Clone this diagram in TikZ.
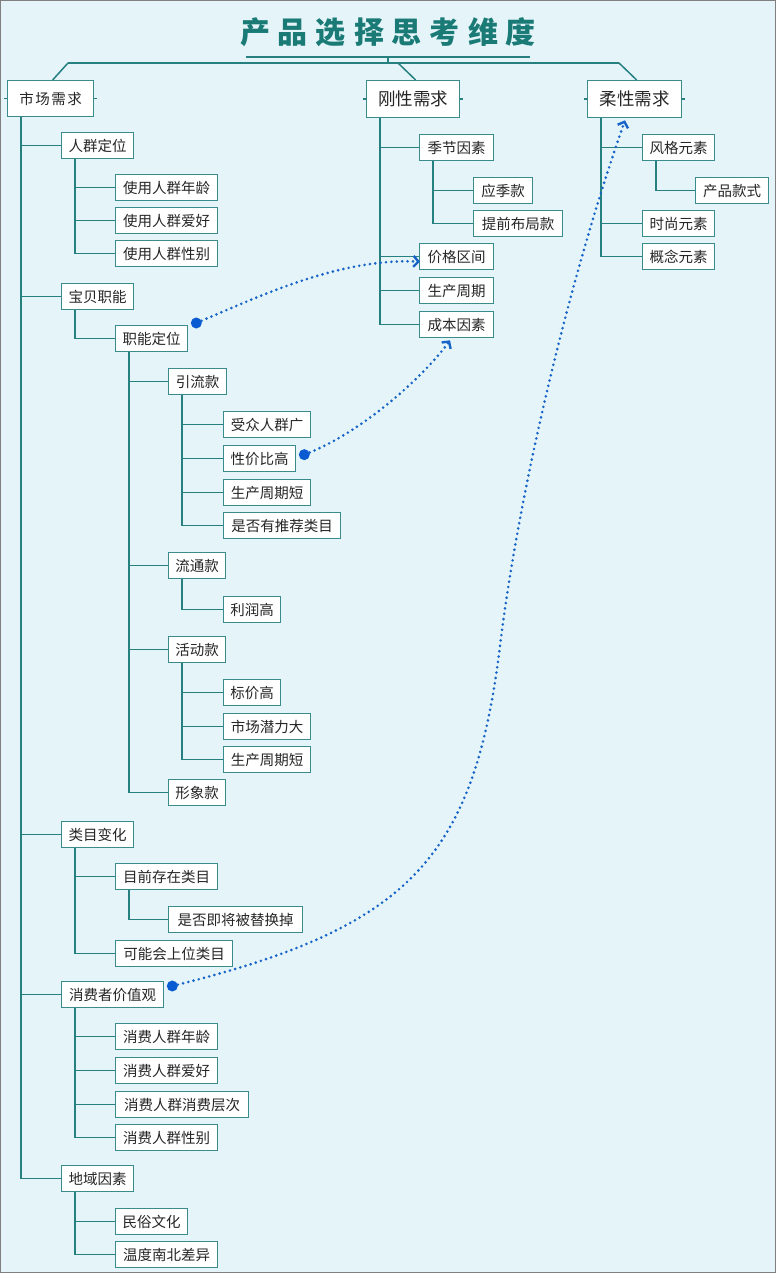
\documentclass[tikz,border=0pt]{standalone}
\usepackage{fontspec}
\setmainfont{Noto Sans CJK SC}
\usetikzlibrary{arrows.meta,calc}
\definecolor{bg}{RGB}{228,244,249}
\definecolor{ln}{RGB}{38,128,128}
\definecolor{bd}{RGB}{58,140,140}
\definecolor{ttl}{RGB}{26,122,118}
\definecolor{relc}{RGB}{22,100,200}
\definecolor{dotc}{RGB}{10,90,210}
\newcommand\br[2]{\draw[conn] ([xshift=14pt]#1.south west) |- (#2.west);}
\begin{document}
\begin{tikzpicture}[x=1pt,y=-1pt,
  box/.style={draw=bd, line width=1.3pt, fill=white, inner sep=0pt, minimum height=26pt, anchor=north west, font=\fontsize{14.5}{14.5}\selectfont, text=black!85},
  topbox/.style={box, minimum height=37pt, font=\fontsize{17.5}{17.5}\selectfont},
  conn/.style={draw=ln, line width=1.5pt},
  relline/.style={draw=relc, line width=2.9pt, dash pattern=on 0pt off 5.4pt, line cap=round, -{Straight Barb[length=5pt,width=11pt,line width=2.4pt]}},
  reldot/.style={fill=dotc, circle, inner sep=0pt, minimum size=11pt}
]
\useasboundingbox (0,0) rectangle (776,1273);
\fill[bg] (0,0) rectangle (776,1273);
\draw[gray, line width=1pt] (0.5,0.5) rectangle (775.5,1272.5);

% title
\node[font=\fontsize{30}{30}\selectfont\bfseries, text=ttl, inner sep=0pt] (title) at (388,32)
  {产\hspace{8pt}品\hspace{8pt}选\hspace{8pt}择\hspace{8pt}思\hspace{8pt}考\hspace{8pt}维\hspace{8pt}度};
\coordinate (ul1) at (246,57);
\coordinate (ul2) at (530,57);
\coordinate (ulm) at (388,57);
\coordinate (hub) at (388,63);
\coordinate (hl) at (68,63);
\coordinate (hm) at (398,63);
\coordinate (hr) at (619,63);

% top level
\node[topbox, minimum width=86pt, minimum height=36pt, font=\fontsize{14.5}{14.5}\selectfont] (sc) at (7,80) {市\hspace{1.5pt}场\hspace{1.5pt}需\hspace{1.5pt}求};
\node[topbox, minimum width=93pt] (gx) at (366,80) {刚性需求};
\node[topbox, minimum width=94pt] (rx) at (587,80) {柔性需求};

\draw[ln, line width=1.3pt] (ul1) -- (ul2);
\draw[conn] (ulm) -- (hub);
\draw[conn, line width=2pt] (hl) -- (hr);
\draw[conn] (hl) -- ([xshift=2pt]sc.north);
\draw[conn] (hm) -- ([xshift=2.5pt]gx.north);
\draw[conn] (hr) -- ([xshift=2pt]rx.north);
\foreach \n in {sc,gx,rx}{
  \draw[conn] (\n.west) -- ++(-3,0);
  \draw[conn] (\n.east) -- ++(3,0);
}

% 市场需求 branch
\node[box, minimum width=72pt] (a1) at (61,132) {人群定位};
\node[box, minimum width=102pt] (a11) at (115,174) {使用人群年龄};
\node[box, minimum width=102pt] (a12) at (115,207) {使用人群爱好};
\node[box, minimum width=102pt] (a13) at (115,240) {使用人群性别};
\node[box, minimum width=72pt] (a2) at (61,283) {宝贝职能};
\node[box, minimum width=72pt] (a21) at (115,325) {职能定位};
\node[box, minimum width=58pt] (b1) at (168,368) {引流款};
\node[box, minimum width=87pt] (b11) at (223,411) {受众人群广};
\node[box, minimum width=72pt] (b12) at (223,445) {性价比高};
\node[box, minimum width=87pt] (b13) at (223,479) {生产周期短};
\node[box, minimum width=117pt] (b14) at (223,512) {是否有推荐类目};
\node[box, minimum width=57pt] (b2) at (168,552) {流通款};
\node[box, minimum width=57pt] (b21) at (223,596) {利润高};
\node[box, minimum width=57pt] (b3) at (168,636) {活动款};
\node[box, minimum width=57pt] (b31) at (223,679) {标价高};
\node[box, minimum width=87pt] (b32) at (223,713) {市场潜力大};
\node[box, minimum width=87pt] (b33) at (223,746) {生产周期短};
\node[box, minimum width=57pt] (b4) at (168,779) {形象款};
\node[box, minimum width=72pt] (a3) at (61,821) {类目变化};
\node[box, minimum width=102pt] (a31) at (115,863) {目前存在类目};
\node[box, minimum width=134pt] (a311) at (168,906) {是否即将被替换掉};
\node[box, minimum width=117pt] (a32) at (115,940) {可能会上位类目};
\node[box, minimum width=102pt] (a4) at (61,981) {消费者价值观};
\node[box, minimum width=102pt] (a41) at (115,1023) {消费人群年龄};
\node[box, minimum width=102pt] (a42) at (115,1057) {消费人群爱好};
\node[box, minimum width=133pt] (a43) at (115,1091) {消费人群消费层次};
\node[box, minimum width=102pt] (a44) at (115,1124) {消费人群性别};
\node[box, minimum width=72pt] (a5) at (61,1165) {地域因素};
\node[box, minimum width=72pt] (a51) at (115,1208) {民俗文化};
\node[box, minimum width=102pt] (a52) at (115,1241) {温度南北差异};

% 刚性需求 branch
\node[box, minimum width=74pt] (g1) at (419,134) {季节因素};
\node[box, minimum width=59pt] (g11) at (473,177) {应季款};
\node[box, minimum width=89pt] (g12) at (473,210) {提前布局款};
\node[box, minimum width=74pt] (g2) at (419,243) {价格区间};
\node[box, minimum width=74pt] (g3) at (419,277) {生产周期};
\node[box, minimum width=74pt] (g4) at (419,311) {成本因素};

% 柔性需求 branch
\node[box, minimum width=72pt] (r1) at (642,134) {风格元素};
\node[box, minimum width=73pt] (r11) at (695,177) {产品款式};
\node[box, minimum width=72pt] (r2) at (642,210) {时尚元素};
\node[box, minimum width=72pt] (r3) at (642,243) {概念元素};

% tree connectors
\foreach \c in {a1,a2,a3,a4,a5}{\br{sc}{\c}}
\foreach \c in {a11,a12,a13}{\br{a1}{\c}}
\br{a2}{a21}
\foreach \c in {b1,b2,b3,b4}{\br{a21}{\c}}
\foreach \c in {b11,b12,b13,b14}{\br{b1}{\c}}
\br{b2}{b21}
\foreach \c in {b31,b32,b33}{\br{b3}{\c}}
\foreach \c in {a31,a32}{\br{a3}{\c}}
\br{a31}{a311}
\foreach \c in {a41,a42,a43,a44}{\br{a4}{\c}}
\foreach \c in {a51,a52}{\br{a5}{\c}}
\foreach \c in {g1,g2,g3,g4}{\br{gx}{\c}}
\foreach \c in {g11,g12}{\br{g1}{\c}}
\foreach \c in {r1,r2,r3}{\br{rx}{\c}}
\br{r1}{r11}

% relationships
\node[reldot] (d1) at ($(a21.north east)+(8,-2)$) {};
\node[reldot] (d2) at ($(b12.east)+(8,-4)$) {};
\node[reldot] (d3) at ($(a4.north east)+(8,5)$) {};
\coordinate (t1) at ($(g2.west)+(1,5)$);
\coordinate (t2) at ($(g4.south west)+(31,2)$);
\coordinate (t3) at ($(rx.south west)+(38,2)$);
\coordinate (m3) at (500,646);
\draw[relline] (d1) .. controls (260,296) and (340,258) .. (t1);
\draw[relline] (d2) .. controls (365,430) and (425,375) .. (t2);
\draw[relline] (d3) .. controls (408,927) and (474,859) .. (m3) .. controls (519,490) and (569,280) .. (t3);
\end{tikzpicture}
\end{document}
